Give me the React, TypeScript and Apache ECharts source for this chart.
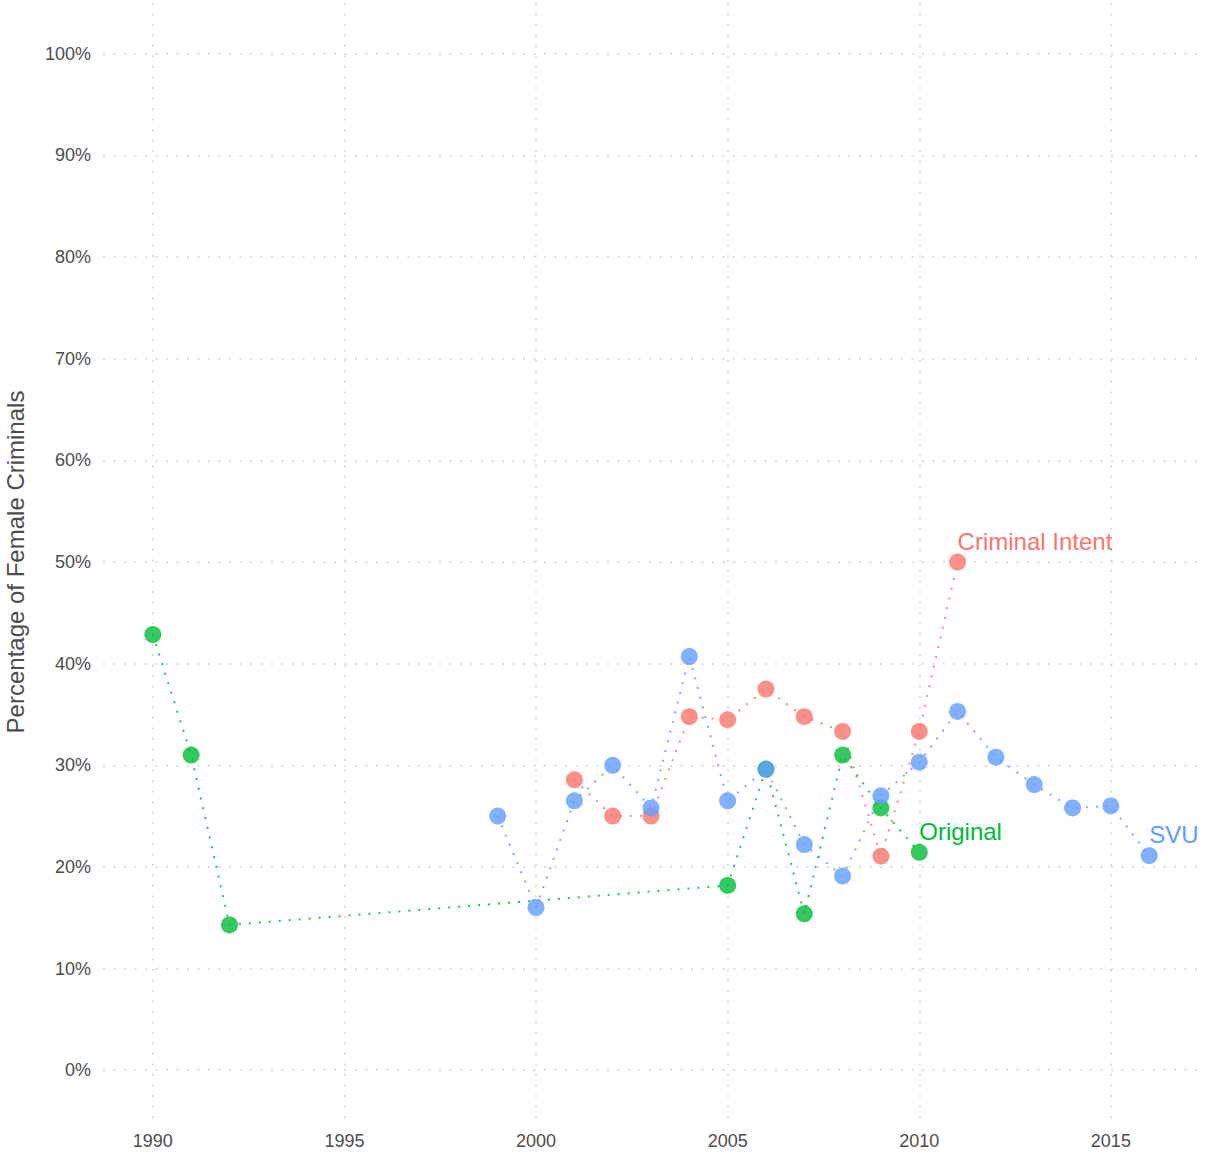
import React, { useEffect, useRef } from "react";
import * as echarts from "echarts";

const xTicks = [1990, 1995, 2000, 2005, 2010, 2015];
const yTicks = [0, 10, 20, 30, 40, 50, 60, 70, 80, 90, 100];

const originalYears = [1990, 1991, 1992, 2005, 2006, 2007, 2008, 2009, 2010];
const originalValues = [42.86, 31.0, 14.29, 18.18, 29.63, 15.38, 31.0, 25.8, 21.43];

const ciYears = [2001, 2002, 2003, 2004, 2005, 2006, 2007, 2008, 2009, 2010, 2011];
const ciValues = [28.57, 25.0, 25.0, 34.78, 34.48, 37.5, 34.78, 33.33, 21.05, 33.33, 50.0];

const svuYears = [1999, 2000, 2001, 2002, 2003, 2004, 2005, 2006, 2007, 2008, 2009, 2010, 2011, 2012, 2013, 2014, 2015, 2016];
const svuValues = [25.0, 16.0, 26.5, 30.0, 25.8, 40.7, 26.5, 29.6, 22.2, 19.1, 27.0, 30.3, 35.3, 30.8, 28.1, 25.8, 26.0, 21.1];

const FONT = '"Liberation Sans", Arial, Helvetica, sans-serif';

const shows = [
  { name: "Criminal Intent", color: "#F8766D", years: ciYears, values: ciValues },
  { name: "Original", color: "#00BA38", years: originalYears, values: originalValues },
  { name: "SVU", color: "#619CFF", years: svuYears, values: svuValues },
];

export default function App() {
  const ref = useRef<HTMLDivElement>(null);

  useEffect(() => {
    if (!ref.current) return;
    const chart = echarts.init(ref.current, undefined, { renderer: "svg" });

    const lineSeries = shows.map((s) => ({
      type: "line",
      name: s.name + "-line",
      data: s.years.map((y, i) => [y, s.values[i]]),
      showSymbol: false,
      symbol: "none",
      z: 2,
      lineStyle: { color: s.color, width: 2, type: [2, 8], opacity: 0.85 },
      silent: true,
    }));

    const scatterSeries = shows.map((s) => ({
      type: "scatter",
      name: s.name,
      z: 5,
      symbolSize: 17,
      itemStyle: { color: s.color, opacity: 0.8 },
      data: s.years.map((y, i) => {
        const item: any = { value: [y, s.values[i]] };
        if (i === s.years.length - 1) {
          item.label = {
            show: true,
            formatter: s.name,
            position: "inside",
            align: "left",
            verticalAlign: "middle",
            offset: [0, -21],
            color: s.color,
            opacity: 1,
            fontSize: 24,
            fontFamily: FONT,
          };
        }
        return item;
      }),
    }));

    chart.setOption({
      animation: false,
      backgroundColor: "#ffffff",
      textStyle: { fontFamily: FONT },
      grid: { left: 103, right: 10, top: 3, bottom: 41, containLabel: false, outerBoundsMode: "none" },
      xAxis: {
        type: "value",
        min: 1988.7,
        max: 2017.3,
        axisLine: { show: false },
        axisTick: { show: false, customValues: xTicks },
        axisLabel: {
          customValues: xTicks,
          color: "#4D4D4D",
          fontSize: 18,
          margin: 11,
          fontFamily: FONT,
          formatter: (v: number) => String(v),
        },
        splitLine: { show: true, lineStyle: { color: "#DCDCDC", width: 2, type: [2, 8.5] } },
      },
      yAxis: {
        type: "value",
        min: -5,
        max: 105,
        name: "Percentage of Female Criminals",
        nameLocation: "middle",
        nameGap: 76,
        nameTextStyle: { color: "#4D4D4D", fontSize: 24, fontFamily: FONT },
        axisLine: { show: false },
        axisTick: { show: false, customValues: yTicks },
        axisLabel: {
          customValues: yTicks,
          color: "#4D4D4D",
          fontSize: 18,
          margin: 12,
          fontFamily: FONT,
          formatter: (v: number) => Math.round(v) + "%",
        },
        splitLine: { show: true, lineStyle: { color: "#DCDCDC", width: 2, type: [2, 8.5] } },
      },
      series: [...lineSeries, ...scatterSeries],
    });

    return () => chart.dispose();
  }, []);

  return (
    <div
      ref={ref}
      style={{ position: "fixed", left: 0, top: 0, width: 1209, height: 1162, background: "#fff" }}
    />
  );
}
